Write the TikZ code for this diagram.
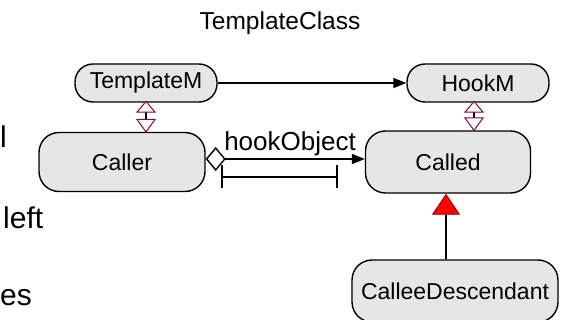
\documentclass[tikz,border=0pt]{standalone}
\usepackage{fontspec}
\setmainfont{Liberation Sans}
\usetikzlibrary{arrows.meta}
\definecolor{umlmaroon}{RGB}{120,10,60}
\definecolor{boxgray}{RGB}{230,230,230}
\tikzset{
  rbox/.style={draw,line width=1.4pt,fill=boxgray,rounded corners=20pt,inner sep=0pt,font=\fontsize{23}{27}\selectfont},
  pill/.style={rbox,rounded corners=18pt,minimum width=142pt,minimum height=38pt},
  linkline/.style={line width=1.4pt},
  realize/.style={line width=1.4pt,{Triangle[fill=white,color=umlmaroon,line width=1pt,length=12pt,width=20pt]}-{Triangle[fill=white,color=umlmaroon,line width=1pt,length=14pt,width=20pt]}},
  slidetext/.style={anchor=base west,inner sep=0pt,font=\fontsize{30}{34}\selectfont}
}
\begin{document}
\begin{tikzpicture}[x=1pt,y=-1pt]
\useasboundingbox (0,0) rectangle (569,320);
\clip (0,0) rectangle (569,320);
\begin{scope}

\node [anchor=center,font=\fontsize{24.5}{28}\selectfont] (node0) at (280,23) {TemplateClass};

\node [rbox,minimum width=166pt,minimum height=59pt] (node3) at (122,162) {Caller};
\node [pill] (node1) at ([xshift=24pt,yshift=79pt]node3.center) {TemplateM};
\node [rbox,minimum width=165pt,minimum height=62pt] (node4) at ([xshift=326pt]node3.center) {Called};
\node [pill] (node2) at ([xshift=30pt,yshift=79pt]node4.center) {HookM};
\node [rbox,minimum width=206pt,minimum height=62pt] (node5) at ([xshift=7pt,yshift=-129pt]node4.center) {CalleeDescendant};

\node [slidetext] (node3-1) at (0,148) {l};
\node [slidetext] (node3-2) at (3,228) {left};
\node [slidetext] (node3-3) at (0,305) {es};

\draw[linkline,-{Triangle[length=13pt,width=10pt]}](node1.east)--(node2.west);

\coordinate (node1-1) at ([yshift=2pt]node1.south);
\coordinate (node1-2) at (node1-1 |- node3.north);
\draw[realize](node1-1)--([yshift=-1pt]node1-2);
\coordinate (node2-1) at ([xshift=-4pt,yshift=2pt]node2.south);
\coordinate (node2-2) at (node2-1 |- node4.north);
\draw[realize](node2-1)--([yshift=-1pt]node2-2);

\draw[linkline,{Diamond[fill=white,length=20pt,width=24pt]}-{Triangle[length=13pt,width=10pt]}]([yshift=3pt]node3.east)--([yshift=3pt]node4.west) node[pos=0.53,anchor=base,yshift=8pt,font=\fontsize{26}{30}\selectfont](node3-4){hookObject};
\coordinate (barL) at ([xshift=15pt,yshift=-15pt]node3.east);
\coordinate (barR) at ([xshift=117pt]barL);
\draw[line width=1.8pt,{Bar[width=23pt]}-{Bar[width=23pt]}](barL)--(barR);

\draw[linkline,-{Triangle[fill=red,color=red!55!black,line width=0.8pt,length=21pt,width=28pt]}]([xshift=-9pt]node5.north)--([xshift=-2pt]node4.south);

\end{scope}
\end{tikzpicture}
\end{document}
